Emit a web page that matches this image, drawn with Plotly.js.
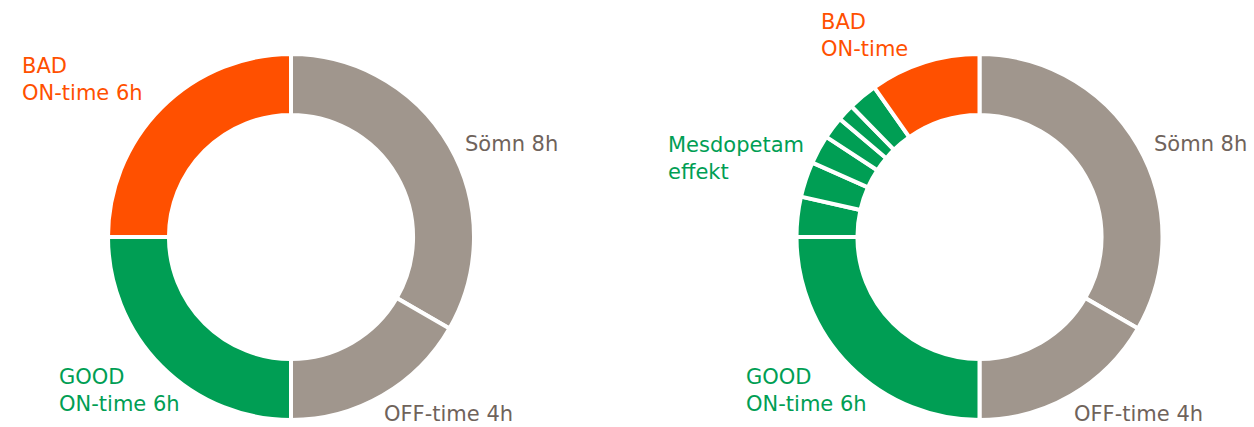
<!DOCTYPE html>
<html>
<head>
<meta charset="utf-8">
<script src="https://cdn.plot.ly/plotly-3.0.1.min.js"></script>
<style>html,body{margin:0;padding:0;background:#fff;}#chart{width:1254px;height:427px;}</style>
</head>
<body>
<div id="chart"></div>
<script>
// Hours per slice (24h day), clockwise from 12 o'clock
const leftCategories = ['Sömn', 'OFF-time', 'GOOD ON-time', 'BAD ON-time'];
const leftHours = [8, 4, 6, 6];
const leftColors = ['#A0968D', '#A0968D', '#009E54', '#FF5000'];

const rightCategories = ['Sömn', 'OFF-time', 'GOOD ON-time',
  'Mesdopetam 1', 'Mesdopetam 2', 'Mesdopetam 3', 'Mesdopetam 4', 'Mesdopetam 5', 'Mesdopetam 6',
  'BAD ON-time'];
const rightHours = [8, 4, 6, 0.85, 0.75, 0.61, 0.47, 0.36, 0.62, 2.34];
const rightColors = ['#A0968D', '#A0968D', '#009E54',
  '#009E54', '#009E54', '#009E54', '#009E54', '#009E54', '#009E54', '#FF5000'];

// Label texts
const leftLabelTexts = ['BAD<br>ON-time 6h', 'Sömn 8h', 'GOOD<br>ON-time 6h', 'OFF-time 4h'];
const rightLabelTexts = ['BAD<br>ON-time', 'Mesdopetam<br>effekt', 'Sömn 8h', 'GOOD<br>ON-time 6h', 'OFF-time 4h'];

const W = 1254, H = 427;
const ORANGE = '#FF5000', GREEN = '#009E54', TGRAY = '#6F635B';
const FONT = '"DejaVu Sans", sans-serif';

function pie(values, labels, colors, cx, cy, r) {
  return {
    type: 'pie', values: values, labels: labels, sort: false,
    direction: 'clockwise', rotation: 0, hole: 0.667,
    marker: {colors: colors, line: {color: '#ffffff', width: 4}},
    textinfo: 'none', hoverinfo: 'label+value', showlegend: false,
    domain: {x: [(cx - r) / W, (cx + r) / W], y: [(H - cy - r) / H, (H - cy + r) / H]}
  };
}

const data = [
  pie(leftHours, leftCategories, leftColors, 291, 237, 183),
  pie(rightHours, rightCategories, rightColors, 979.5, 237, 183)
];

function ann(text, x, y, color, bottom) {
  const a = {text: text, x: x / W, xref: 'paper', yref: 'paper',
    xanchor: 'left', align: 'left', showarrow: false, borderpad: 0,
    font: {family: FONT, size: 21, color: color}};
  if (bottom) { a.y = 0; a.yanchor = 'bottom'; }
  else { a.y = 1 - y / H; a.yanchor = 'middle'; }
  return a;
}

const annotations = [
  ann(leftLabelTexts[0], 21, 79, ORANGE),
  ann(leftLabelTexts[1], 464, 144, TGRAY),
  ann(leftLabelTexts[2], 58, 390, GREEN),
  ann(leftLabelTexts[3], 383, 0, TGRAY, true),
  ann(rightLabelTexts[0], 820, 36, ORANGE),
  ann(rightLabelTexts[1], 667, 158, GREEN),
  ann(rightLabelTexts[2], 1153, 144, TGRAY),
  ann(rightLabelTexts[3], 745, 390, GREEN),
  ann(rightLabelTexts[4], 1073, 0, TGRAY, true)
];

const layout = {
  width: W, height: H, margin: {l: 0, r: 0, t: 0, b: 0},
  paper_bgcolor: '#ffffff', plot_bgcolor: '#ffffff',
  font: {family: FONT},
  annotations: annotations
};

Plotly.newPlot('chart', data, layout, {displayModeBar: false, staticPlot: true});
</script>
</body>
</html>
